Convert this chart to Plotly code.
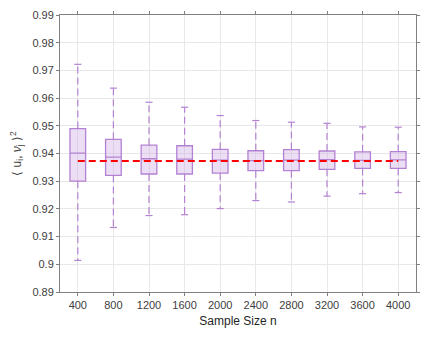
import plotly.graph_objects as go

sample_sizes = ["400", "800", "1200", "1600", "2000", "2400", "2800", "3200", "3600", "4000"]
upper_whisker = [0.9722, 0.9636, 0.9585, 0.9567, 0.9537, 0.9519, 0.9513, 0.9509, 0.9496, 0.9495]
q3 = [0.9490, 0.9451, 0.9430, 0.9428, 0.9415, 0.9410, 0.9414, 0.9409, 0.9406, 0.9407]
median = [0.9401, 0.9387, 0.9381, 0.9380, 0.9376, 0.9374, 0.9376, 0.9378, 0.9375, 0.9377]
q1 = [0.9300, 0.9321, 0.9326, 0.9326, 0.9329, 0.9338, 0.9338, 0.9343, 0.9346, 0.9346]
lower_whisker = [0.9014, 0.9133, 0.9176, 0.9179, 0.9201, 0.9230, 0.9225, 0.9246, 0.9255, 0.9259]
reference_value = 0.9373

purple = "#b482d2"
fill = "rgba(200,160,225,0.35)"
pos = list(range(1, len(sample_sizes) + 1))

fig = go.Figure()

# dashed whiskers
wx, wy = [], []
for i, p in enumerate(pos):
    wx += [p, p, None, p, p, None]
    wy += [q3[i], upper_whisker[i], None, q1[i], lower_whisker[i], None]
fig.add_trace(go.Scatter(x=wx, y=wy, mode="lines",
                         line=dict(color=purple, width=1.2, dash="7px,4px"),
                         hoverinfo="skip", showlegend=False))
# caps
cx, cy = [], []
cap = 0.1
for i, p in enumerate(pos):
    cx += [p - cap, p + cap, None, p - cap, p + cap, None]
    cy += [upper_whisker[i], upper_whisker[i], None, lower_whisker[i], lower_whisker[i], None]
fig.add_trace(go.Scatter(x=cx, y=cy, mode="lines",
                         line=dict(color=purple, width=1.2),
                         hoverinfo="skip", showlegend=False))

# boxes
fig.add_trace(go.Box(x=pos, q1=q1, median=median, q3=q3,
                     lowerfence=q1, upperfence=q3,
                     width=0.44, fillcolor=fill,
                     line=dict(color=purple, width=1.3),
                     showlegend=False, hoverinfo="skip"))

# reference line
fig.add_trace(go.Scatter(x=[pos[0], pos[-1]], y=[reference_value, reference_value],
                         mode="lines", line=dict(color="#ff0000", width=2, dash="7px,4px"),
                         showlegend=False, hoverinfo="skip"))

axis_common = dict(showline=True, linecolor="#808080", linewidth=1, mirror="ticks",
                   ticks="outside", ticklen=3, tickcolor="#808080",
                   showgrid=True, gridcolor="#e8e8e8", gridwidth=1, zeroline=False,
                   tickfont=dict(family="Liberation Sans, Arial", size=11, color="#404040"))

fig.update_layout(
    width=429, height=362,
    margin=dict(l=60, r=9, t=10, b=70),
    plot_bgcolor="white", paper_bgcolor="white",
    xaxis=dict(range=[0.5, len(pos) + 0.5], tickvals=pos, ticktext=sample_sizes,
               title=dict(text="Sample Size n", standoff=6,
                          font=dict(family="Liberation Sans, Arial", size=12, color="#262626")),
               **axis_common),
    yaxis=dict(range=[0.89, 0.99], dtick=0.01, tick0=0.89,
               title=dict(text="⟨ u<sub>i</sub>, <i>ν</i><sub>j</sub> ⟩<sup>2</sup>", standoff=8,
                          font=dict(family="Liberation Sans, Arial", size=12, color="#404040")),
               **axis_common),
    annotations=[dict(text="⟨ u<sub>i</sub> , <i>ν</i><sub>j</sub> ⟩<sup>2</sup>",
                      xref="paper", yref="paper", x=0.653, y=-0.252,
                      xanchor="center", yanchor="top", showarrow=False,
                      font=dict(family="Liberation Sans, Arial", size=18, color="#404040"))],
)

fig.write_html("out.html")
